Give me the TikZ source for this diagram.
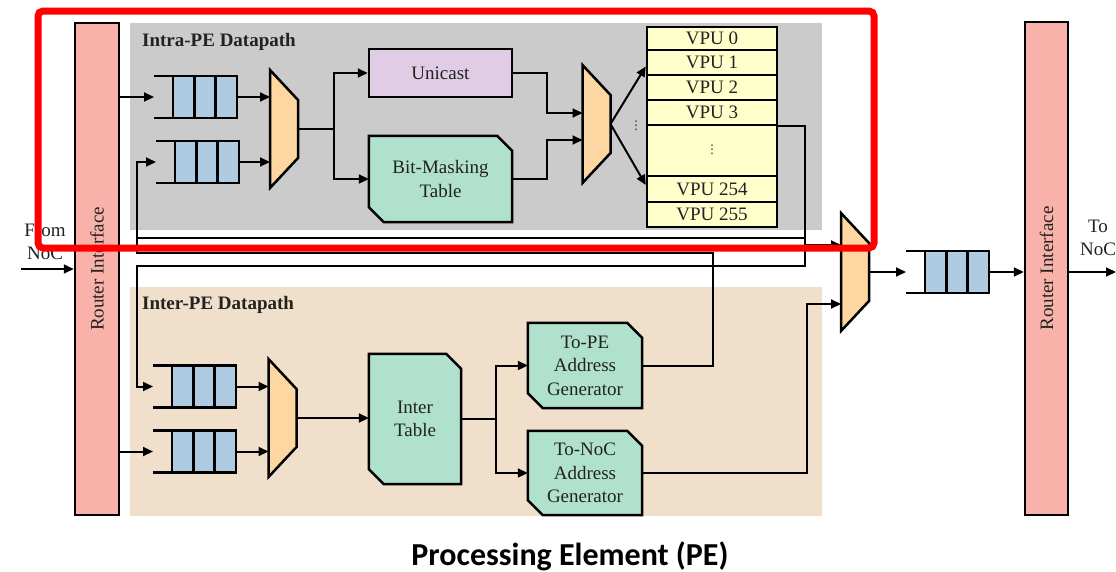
\documentclass[tikz,border=0pt]{standalone}
\usepackage{fontspec}
\setmainfont{Liberation Serif}
\newfontfamily\capfont{Carlito}
\newfontfamily\symfont{DejaVu Sans}
\usetikzlibrary{arrows.meta,calc}

\definecolor{rifpink}{HTML}{F9B2AA}
\definecolor{intragray}{HTML}{CBCBCB}
\definecolor{intertan}{HTML}{F0E0CB}
\definecolor{qblue}{HTML}{AFCBE1}
\definecolor{muxorange}{HTML}{FDD6A2}
\definecolor{unililac}{HTML}{E0CCE4}
\definecolor{tblgreen}{HTML}{B0E1CC}
\definecolor{vpuyellow}{HTML}{FFFFCC}
\definecolor{txtdark}{HTML}{222222}
\definecolor{hilite}{HTML}{FF0000}

\pgfdeclarelayer{regions}
\pgfdeclarelayer{bodies}
\pgfsetlayers{regions,bodies,main}

\tikzset{
  pics/queue/.style={code={
    \fill[qblue] (-32,-21) rectangle (32,21);
    \draw[line width=2.5pt, line join=miter] (-51,-21) -- (32,-21) -- (32,21) -- (-51,21);
    \draw[line width=2.5pt] (-32,-21) -- (-32,21) (-10.7,-21) -- (-10.7,21) (10.7,-21) -- (10.7,21);
    \coordinate (-in) at (-51,0);
    \coordinate (-out) at (32,0);
  }},
  pics/mux/.style={code={
    \draw[line width=2.5pt, fill=muxorange, line join=miter]
      (-14,-59) -- (14,-29) -- (14,29) -- (-14,59) -- cycle;
    \coordinate (-w) at (-14,0);
    \coordinate (-e) at (14,0);
  }},
}

% table body with the north-east and south-west corners cut off
\newcommand\cutbody[1]{%
  \begin{pgfonlayer}{bodies}
    \draw[line width=2.5pt, fill=tblgreen, line join=miter]
      (#1.north west) -- ($(#1.north east)+(-15,0)$) -- ($(#1.north east)+(0,15)$)
      -- (#1.south east) -- ($(#1.south west)+(15,0)$) -- ($(#1.south west)+(0,-15)$) -- cycle;
  \end{pgfonlayer}}

\begin{document}
\begin{tikzpicture}[x=1pt,y=-1pt,
  every node/.style={font=\fontsize{19}{23.5}\selectfont, text=txtdark, inner sep=0pt},
  box/.style={draw=black, line width=2.5pt},
  rif/.style={box, fill=rifpink, minimum width=44pt, minimum height=492pt},
  region/.style={draw=none, inner sep=0pt},
  unibox/.style={box, fill=unililac, minimum width=143pt, minimum height=48pt},
  tblbox/.style={align=center},
  vpu/.style={box, fill=vpuyellow, minimum width=130pt},
  vdot/.style={font=\symfont\fontsize{12}{12}\selectfont},
  wire/.style={line width=2pt, line join=miter},
  arr/.style={wire, -{Triangle[length=10pt,width=9pt]}},
  title/.style={anchor=west, font=\fontsize{19}{23.5}\selectfont\bfseries},
]
\useasboundingbox (0,0) rectangle (1116,571);

% datapath backgrounds
\begin{pgfonlayer}{regions}
\node[region, fill=intragray, minimum width=692pt, minimum height=207pt] (intra) at (476,126.5) {};
\node[region, fill=intertan, minimum width=692pt, minimum height=229pt] (inter) at (476,401.5) {};
\end{pgfonlayer}
\node[title] (intratitle) at (142,42) {Intra-PE Datapath};
\node[title] (intertitle) at (142,305) {Inter-PE Datapath};

% router interfaces
\node[rif] (rif1) at (97,269) {};
\node[rotate=90] (rif1txt) at (rif1) {Router Interface};
\node[rif, minimum width=43pt, minimum height=493pt] (rif2) at (1046.5,268.5) {};
\node[rotate=90] (rif2txt) at (rif2) {Router Interface};

% queues and multiplexers
\pic (q1) at (205,97) {queue};
\pic (q2) at (207,162) {queue};
\pic (q3) at (204,386.5) {queue};
\pic (q4) at (204,451.5) {queue};
\pic (oq) at (957,272) {queue};
\pic (m1) at (284,129) {mux};
\pic (m2) at (596.5,124) {mux};
\pic (m3) at (282.5,418) {mux};
\pic (om) at (855,272) {mux};

% intra-PE blocks
\node[unibox] (uni) at (440.5,73) {Unicast};
\node[tblbox, minimum width=143pt, minimum height=86pt] (bmt) at (440.5,179) {Bit-Masking\\Table};
\cutbody{bmt}

\node[vpu, minimum height=23pt] (vpu0) at (712,38.5) {VPU 0};
\node[vpu, minimum height=25pt] (vpu1) at (712,62.5) {VPU 1};
\node[vpu, minimum height=25pt] (vpu2) at (712,87.5) {VPU 2};
\node[vpu, minimum height=25pt] (vpu3) at (712,112.5) {VPU 3};
\node[vpu, minimum height=51pt] (vpudots) at (712,150.5) {};
\node[vdot] (vdots1) at (712,150) {⋮};
\node[vpu, minimum height=26pt] (vpu254) at (712,189) {VPU 254};
\node[vpu, minimum height=25pt] (vpu255) at (712,214.5) {VPU 255};
\node[vdot] (m2dots) at (636,126) {⋮};

% inter-PE blocks
\node[tblbox, minimum width=92pt, minimum height=130pt] (itab) at (415,419) {Inter\\Table};
\cutbody{itab}
\node[tblbox, minimum width=114pt, minimum height=85pt] (tope) at (585,365.5) {To-PE\\Address\\Generator};
\cutbody{tope}
\node[tblbox, minimum width=114pt, minimum height=84pt] (tonoc) at (585,473) {To-NoC\\Address\\Generator};
\cutbody{tonoc}

% external labels
\node[align=center] (fromlbl) at (45,242) {From\\NoC};
\node[align=center] (tolbl) at (1098,238) {To\\NoC};
\node[font=\capfont\bfseries\fontsize{32}{36}\selectfont, text=black] (caption) at (570,556) {Processing Element (PE)};

% routing points
\coordinate (nocin) at (21,269);
\coordinate (nocout) at (1116,272);
\coordinate (s1) at (334,129);
\coordinate (j1) at (547,113);
\coordinate (j2) at (547,140);
\coordinate (busr) at (805,266);
\coordinate (busl) at (137,266);
\coordinate (bustop) at (805,238);
\coordinate (bustopl) at (137,238);
\coordinate (busmux) at (805,245);
\coordinate (pebus) at (713,253);
\coordinate (pebusl) at (137,253);
\coordinate (s2) at (496,419);
\coordinate (nocbus) at (807,304);

% intra-PE wiring
\draw[arr] (nocin) -- (nocin -| rif1.west);
\draw[arr] (q1-in -| rif1.east) -- (q1-in);
\draw[arr] (q1-out) -- (q1-out -| m1-w);
\draw[arr] (q2-out) -- (q2-out -| m1-w);
\draw[arr] (m1-e) -- (s1) |- (uni.west);
\draw[arr] (s1) |- (bmt.west);
\draw[arr] (uni.east) -| (j1) -- (j1 -| m2-w);
\draw[arr] (bmt.east) -| (j2) -- (j2 -| m2-w);
\draw[arr] (m2-e) -- ($(vpu1.west)+(0,4)$);
\draw[arr] (m2-e) -- ($(vpu254.west)+(0,-4)$);

% feedback and output buses
\draw[arr] (vpu3.south east) -| (busr) -- (busl) |- (q3-in);
\draw[wire] (bustop) -- (bustopl);
\draw[arr] (tope.east) -| (pebus) -- (pebusl) |- (q2-in);
\draw[arr] (busmux) -- (busmux -| om-w);

% inter-PE wiring
\draw[arr] (q4-in -| rif1.east) -- (q4-in);
\draw[arr] (q3-out) -- (q3-out -| m3-w);
\draw[arr] (q4-out) -- (q4-out -| m3-w);
\draw[arr] (m3-e) -- (m3-e -| itab.west);
\draw[arr] (itab.east) -- (s2) |- (tope.west);
\draw[arr] (s2) |- (tonoc.west);
\draw[arr] (tonoc.east) -| (nocbus) -- (nocbus -| om-w);

% output path
\draw[arr] (om-e) -- (oq-in);
\draw[arr] (oq-out) -- (oq-out -| rif2.west);
\draw[arr] (oq-out -| rif2.east) -- (nocout);

% highlight frame
\draw[hilite, line width=7pt, rounded corners=5pt] (38,11) rectangle (874,248);
\end{tikzpicture}
\end{document}
